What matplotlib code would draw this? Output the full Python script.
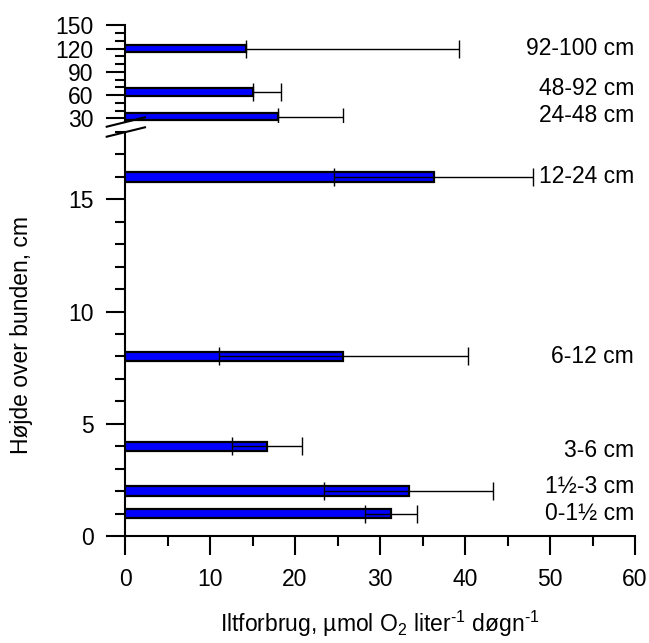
import matplotlib
matplotlib.use("Agg")
import matplotlib.pyplot as plt
from matplotlib.lines import Line2D
from matplotlib.ticker import MultipleLocator

plt.rcParams['font.family'] = ['Liberation Sans', 'DejaVu Sans']
plt.rcParams['mathtext.fontset'] = 'custom'
plt.rcParams['mathtext.rm'] = 'Liberation Sans'
plt.rcParams['mathtext.default'] = 'regular'

# ---- data ----
lower_pos = [1, 2, 4, 8, 16]
lower_vals = [31.3, 33.4, 16.7, 25.7, 36.3]
lower_err = [3.05, 9.95, 4.1, 14.6, 11.7]
lower_labels = ["0-1½ cm", "1½-3 cm", "3-6 cm", "6-12 cm", "12-24 cm"]
lower_label_pos = [1.0, 2.2, 3.8, 8.0, 16.0]

upper_pos = [32, 64, 120]
upper_vals = [18.0, 15.0, 14.2]
upper_err = [7.7, 3.35, 25.1]
upper_labels = ["24-48 cm", "48-92 cm", "92-100 cm"]
upper_label_pos = [34, 69, 120]

x_ticks = [0, 10, 20, 30, 40, 50, 60]
lower_yticks = [0, 5, 10, 15]
upper_yticks = [30, 60, 90, 120, 150]

W, H = 649, 643
fig = plt.figure(figsize=(W / 100, H / 100), dpi=100)

def frac_box(x0, x1, ytop, ybot):
    return [x0 / W, 1 - ybot / H, (x1 - x0) / W, (ybot - ytop) / H]

ax = fig.add_axes(frac_box(125, 635, 132, 536))
axu = fig.add_axes(frac_box(125, 635, 25.5, 122.2))

FS = 16.5
bar_kw = dict(color='#0000ff', edgecolor='black', linewidth=1.6, zorder=2)
err_kw = dict(fmt='none', ecolor='black', elinewidth=1.0, capsize=6.8, capthick=1.0, zorder=3)

ax.barh(lower_pos, lower_vals, height=0.42, **bar_kw)
ax.errorbar(lower_vals, lower_pos, xerr=lower_err, **err_kw)

axu.barh(upper_pos, upper_vals, height=9.5, **bar_kw)
axu.errorbar(upper_vals, upper_pos, xerr=[[0] * len(upper_err), upper_err], **err_kw)

for a in (ax, axu):
    a.set_xlim(0, 60)
    a.spines['top'].set_visible(False)
    a.spines['right'].set_visible(False)
    a.spines['left'].set_linewidth(1.5)
    a.spines['bottom'].set_linewidth(1.5)
    a.tick_params(which='major', direction='out', length=13.7, width=1.5, labelsize=FS, pad=9)
    a.tick_params(which='minor', direction='out', length=7.2, width=1.5)

ax.set_ylim(0, 18)
ax.set_yticks(lower_yticks)
ax.yaxis.set_minor_locator(MultipleLocator(1))
ax.set_xticks(x_ticks)
ax.xaxis.set_minor_locator(MultipleLocator(5))

axu.set_ylim(25, 150)
axu.set_yticks(upper_yticks)
axu.set_yticks([40, 50, 70, 80, 100, 110, 130, 140], minor=True)
axu.spines['bottom'].set_visible(False)
axu.tick_params(axis='x', which='both', bottom=False, labelbottom=False)
axu.patch.set_alpha(0)

for lab, y in zip(lower_labels, lower_label_pos):
    ax.text(59.9, y, lab, ha='right', va='center', fontsize=FS)
for lab, y in zip(upper_labels, upper_label_pos):
    axu.text(59.9, y, lab, ha='right', va='center', fontsize=FS)

# axis break marks
for y0 in (126.7, 136.7):
    fig.add_artist(Line2D([106.7 / W, 145 / W], [1 - y0 / H, 1 - (y0 - 9.4) / H],
                          color='black', lw=1.5))

fig.text(22 / W, 1 - 335 / H, "Højde over bunden, cm", rotation=90,
         ha='center', va='center', fontsize=FS)
fig.text(380 / W, 1 - 624 / H,
         r"Iltforbrug, µmol O$_2$ liter$^{\text{-1}}$ døgn$^{\text{-1}}$",
         ha='center', va='center', fontsize=FS)

fig.savefig("out.png", dpi=100)
